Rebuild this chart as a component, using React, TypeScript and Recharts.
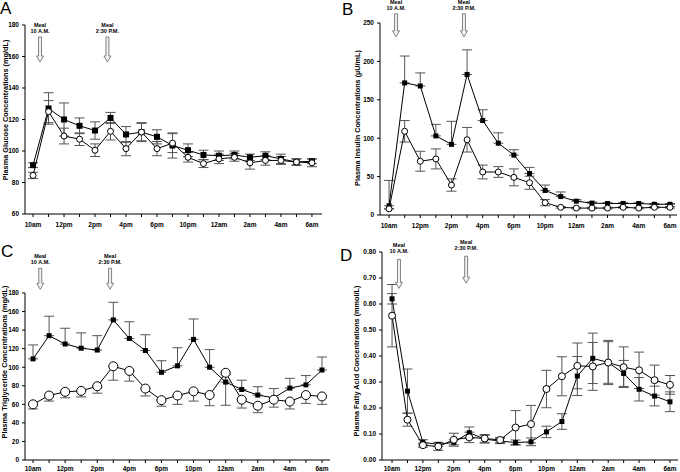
import React from 'react';
import { LineChart, Line, XAxis, YAxis, ErrorBar, ReferenceDot } from 'recharts';

// sampling slots along the time axis (two slots per labelled tick)
const slots = [0, 1, 2, 3, 4, 5, 6, 7, 8, 9, 10, 11, 12, 13, 14, 15, 16, 17, 18];
const timeLabels = ['10am', '12pm', '2pm', '4pm', '6pm', '10pm', '12am', '2am', '4am', '6am'];
const mealSlots = [0.45, 4.8];
const mealLabels = ['10 A.M.', '2:30 P.M.'];

// A - glucose
const glucoseFilled = [91, 127, 120, 116, 113, 121, 110.5, 112, 109, 103.5, 100.5, 97.5, 97, 97.5, 96, 97, 95, 93, 93.5];
const glucoseFilledErr = [1.5, 10, 10.5, 5, 5.5, 3.5, 5, 5.5, 4.5, 8, 4, 3, 3, 2.5, 2, 2.5, 3, 2, 1.5];
const glucoseOpen = [84.5, 125, 109.5, 107.5, 100.5, 112.5, 101.5, 112, 101.5, 105, 96, 92, 95, 96, 92.5, 94, 94, 93, 92.5];
const glucoseOpenErr = [2, 7, 5, 4, 4, 5.5, 4.5, 6, 4.5, 6, 3, 2.5, 3, 2.5, 4, 3, 2.5, 2, 2.5];

// B - insulin
const insulinFilled = [12, 172, 168, 103, 92, 183, 123, 93.5, 78, 54, 32, 24, 18, 15.5, 15, 15, 15, 14, 14];
const insulinFilledErr = [33, 35, 17, 15, 30, 32, 14, 13.5, 7, 8, 7, 6, 2, 1.5, 1, 1, 1, 1, 1];
const insulinOpen = [8, 109, 70, 73, 39, 98, 56, 56, 49, 42, 16, 10, 9, 9, 9, 10, 9, 10, 10];
const insulinOpenErr = [0, 14, 13, 13, 8, 16, 9, 7, 11, 8.5, 4, 1, 1, 1, 1, 1, 1, 1, 1];

// C - triglyceride
const triFilled = [109, 134, 125, 120.5, 118.5, 151, 131, 118, 94.5, 101.5, 130, 100, 84, 76, 70, 67, 77.5, 81, 97];
const triFilledErr = [15, 21, 17, 16.5, 15.5, 19, 18, 17, 12.5, 19.5, 22, 19, 8, 10, 9, 10, 10.5, 10, 14];
const triOpen = [60, 69.5, 73.5, 74.5, 79.5, 101, 96, 77, 64.5, 69.5, 74, 70, 94, 65, 58.5, 65, 63, 70, 68.5];
const triOpenErr = [5, 6, 6.5, 6.5, 7.5, 15, 11, 8, 6.5, 9.5, 10.5, 11.5, 35, 9, 7.5, 8, 8, 9, 8.5];

// D - fatty acid
const faFilled = [0.62, 0.265, 0.068, 0.06, 0.068, 0.105, 0.08, 0.073, 0.067, 0.07, 0.108, 0.148, 0.323, 0.391, 0.375, 0.333, 0.272, 0.246, 0.224];
const faFilledErr = [0.02, 0.085, 0.01, 0.008, 0.01, 0.022, 0.015, 0.01, 0.01, 0.015, 0.022, 0.03, 0.075, 0.097, 0.08, 0.05, 0.045, 0.038, 0.038];
const faOpen = [0.555, 0.155, 0.057, 0.052, 0.078, 0.087, 0.083, 0.077, 0.125, 0.138, 0.273, 0.322, 0.362, 0.36, 0.375, 0.357, 0.345, 0.307, 0.289];
const faOpenErr = [0.12, 0.025, 0.008, 0.015, 0.025, 0.02, 0.015, 0.01, 0.065, 0.072, 0.072, 0.075, 0.088, 0.092, 0.085, 0.078, 0.07, 0.058, 0.036];

const FONT = '"Liberation Sans", Arial, sans-serif';
const tickStyle = { fontSize: 6.5, fontWeight: 'bold', fill: '#000', fontFamily: FONT };

type ErrMode = 'both' | 'up' | 'down';

const errPair = (e: number, mode: ErrMode): [number, number] =>
  mode === 'both' ? [e, e] : mode === 'up' ? [0, e] : [e, 0];

const MealArrow = (props: any) => {
  const { cx, cy, len, textGap, label } = props;
  const top = cy - len;
  const head = 6;
  const pts = [
    [cx - 1.5, top], [cx + 1.5, top], [cx + 1.5, cy - head], [cx + 3.5, cy - head],
    [cx, cy], [cx - 3.5, cy - head], [cx - 1.5, cy - head],
  ].map((p) => p.join(',')).join(' ');
  return (
    <g>
      <polygon points={pts} fill="#f0f0f0" stroke="#666" strokeWidth={0.8} />
      <text x={cx} y={top - textGap - 6} textAnchor="middle" fontSize={5.5} fontWeight="bold" fontFamily={FONT}>Meal</text>
      <text x={cx} y={top - textGap} textAnchor="middle" fontSize={5.5} fontWeight="bold" fontFamily={FONT}>{label}</text>
    </g>
  );
};

interface PanelProps {
  left: number;
  top: number;
  marginTop: number;
  marginRight: number;
  yWidth: number;
  xHeight: number;
  xDomain: [number, number];
  yDomain: [number, number];
  yTicks: number[];
  yFmt?: (v: number) => string;
  filled: number[];
  filledErr: number[];
  filledMode: ErrMode;
  open: number[];
  openErr: number[];
  openMode: ErrMode;
  circleR: number;
  squareS: number;
  arrowTips: number[];
  arrowLens: number[];
  textGap: number;
  xTickMargin: number;
}

const Panel = (p: PanelProps) => {
  const data = slots.map((s, i) => ({
    t: s,
    f: p.filled[i],
    o: p.open[i],
    fe: errPair(p.filledErr[i], p.filledMode),
    oe: errPair(p.openErr[i], p.openMode),
  }));
  return (
    <div style={{ position: 'absolute', left: p.left, top: p.top }}>
      <LineChart
        width={340}
        height={236}
        data={data}
        margin={{ top: p.marginTop, right: p.marginRight, bottom: 0, left: 0 }}
      >
        <XAxis
          dataKey="t"
          type="number"
          domain={p.xDomain}
          ticks={slots}
          interval={0}
          height={p.xHeight}
          tickFormatter={(v: number) => (v % 2 === 0 ? timeLabels[v / 2] : '')}
          tick={tickStyle}
          tickSize={3}
          tickMargin={p.xTickMargin}
          axisLine={{ stroke: '#000' }}
          tickLine={{ stroke: '#000' }}
        />
        <YAxis
          type="number"
          domain={p.yDomain}
          ticks={p.yTicks}
          interval={0}
          width={p.yWidth}
          tickFormatter={p.yFmt}
          tick={tickStyle}
          tickSize={3}
          tickMargin={3}
          axisLine={{ stroke: '#000' }}
          tickLine={{ stroke: '#000' }}
        />
        <Line
          dataKey="f"
          stroke="#000"
          strokeWidth={1}
          isAnimationActive={false}
          dot={(d: any) => (
            <rect key={`f${d.index}`} x={d.cx - p.squareS / 2} y={d.cy - p.squareS / 2} width={p.squareS} height={p.squareS} fill="#000" />
          )}
        >
          <ErrorBar dataKey="fe" direction="y" width={5} stroke="#555" strokeWidth={1} />
        </Line>
        <Line
          dataKey="o"
          stroke="#000"
          strokeWidth={1}
          isAnimationActive={false}
          dot={(d: any) => (
            <circle key={`o${d.index}`} cx={d.cx} cy={d.cy} r={p.circleR} fill="#fff" stroke="#000" strokeWidth={1} />
          )}
        >
          <ErrorBar dataKey="oe" direction="y" width={5} stroke="#555" strokeWidth={1} />
        </Line>
        {mealSlots.map((m, i) => (
          <ReferenceDot
            key={`m${i}`}
            x={m}
            y={p.arrowTips[i]}
            r={0}
            ifOverflow="visible"
            shape={(s: any) => <MealArrow cx={s.cx} cy={s.cy} len={p.arrowLens[i]} textGap={p.textGap} label={mealLabels[i]} />}
          />
        ))}
      </LineChart>
    </div>
  );
};

const yLabel = (x: number, y: number, text: string) => (
  <text
    transform={`translate(${x},${y}) rotate(-90)`}
    textAnchor="middle"
    fontSize={7.3}
    fontWeight="bold"
    fontFamily={FONT}
  >
    {text}
  </text>
);

const letter = (x: number, y: number, text: string) => (
  <text x={x} y={y} fontSize={17} fontFamily={FONT}>{text}</text>
);

export default function App() {
  return (
    <div style={{ position: 'absolute', left: 0, top: 0, width: 680, height: 472, background: '#fff', overflow: 'hidden' }}>
      <Panel
        left={0} top={0} marginTop={25} marginRight={18} yWidth={25} xHeight={22}
        xDomain={[-0.52, 18.65]} yDomain={[60, 180]} yTicks={[60, 80, 100, 120, 140, 160, 180]}
        filled={glucoseFilled} filledErr={glucoseFilledErr} filledMode="both"
        open={glucoseOpen} openErr={glucoseOpenErr} openMode="both"
        circleR={3} squareS={6} arrowTips={[156.5, 156.5]} arrowLens={[25, 25]} textGap={4} xTickMargin={5}
      />
      <Panel
        left={340} top={0} marginTop={23} marginRight={3} yWidth={40} xHeight={21}
        xDomain={[-0.58, 18.45]} yDomain={[0, 250]} yTicks={[0, 50, 100, 150, 200, 250]}
        filled={insulinFilled} filledErr={insulinFilledErr} filledMode="up"
        open={insulinOpen} openErr={insulinOpenErr} openMode="both"
        circleR={3} squareS={5} arrowTips={[232, 232]} arrowLens={[23, 23]} textGap={4} xTickMargin={5}
      />
      <Panel
        left={0} top={236} marginTop={57} marginRight={10} yWidth={25} xHeight={12}
        xDomain={[-0.5, 18.5]} yDomain={[0, 180]} yTicks={[0, 20, 40, 60, 80, 100, 120, 140, 160, 180]}
        filled={triFilled} filledErr={triFilledErr} filledMode="up"
        open={triOpen} openErr={triOpenErr} openMode="down"
        circleR={4.5} squareS={5} arrowTips={[184, 184]} arrowLens={[21, 21]} textGap={4} xTickMargin={3}
      />
      <Panel
        left={340} top={236} marginTop={16} marginRight={2} yWidth={42} xHeight={12}
        xDomain={[-0.65, 18.52]} yDomain={[0, 0.8]} yTicks={[0, 0.1, 0.2, 0.3, 0.4, 0.5, 0.6, 0.7, 0.8]}
        yFmt={(v: number) => v.toFixed(2)}
        filled={faFilled} filledErr={faFilledErr} filledMode="both"
        open={faOpen} openErr={faOpenErr} openMode="both"
        circleR={3.5} squareS={5} arrowTips={[0.66, 0.68]} arrowLens={[29, 27]} textGap={6} xTickMargin={3}
      />
      <svg width={680} height={472} style={{ position: 'absolute', left: 0, top: 0, pointerEvents: 'none' }}>
        {letter(0, 14, 'A')}
        {letter(342, 15, 'B')}
        {letter(1, 257, 'C')}
        {letter(340, 261, 'D')}
        {yLabel(8, 110, 'Plasma Glucose Concentrations (mg/dL)')}
        {yLabel(360, 118, 'Plasma Insulin Concentrations (\u00b5U/mL)')}
        {yLabel(7, 362, 'Plasma Triglyceride Concentrations (mg/dL)')}
        {yLabel(359, 361, 'Plasma Fatty Acid Concentrations (mmol/L)')}
      </svg>
    </div>
  );
}
